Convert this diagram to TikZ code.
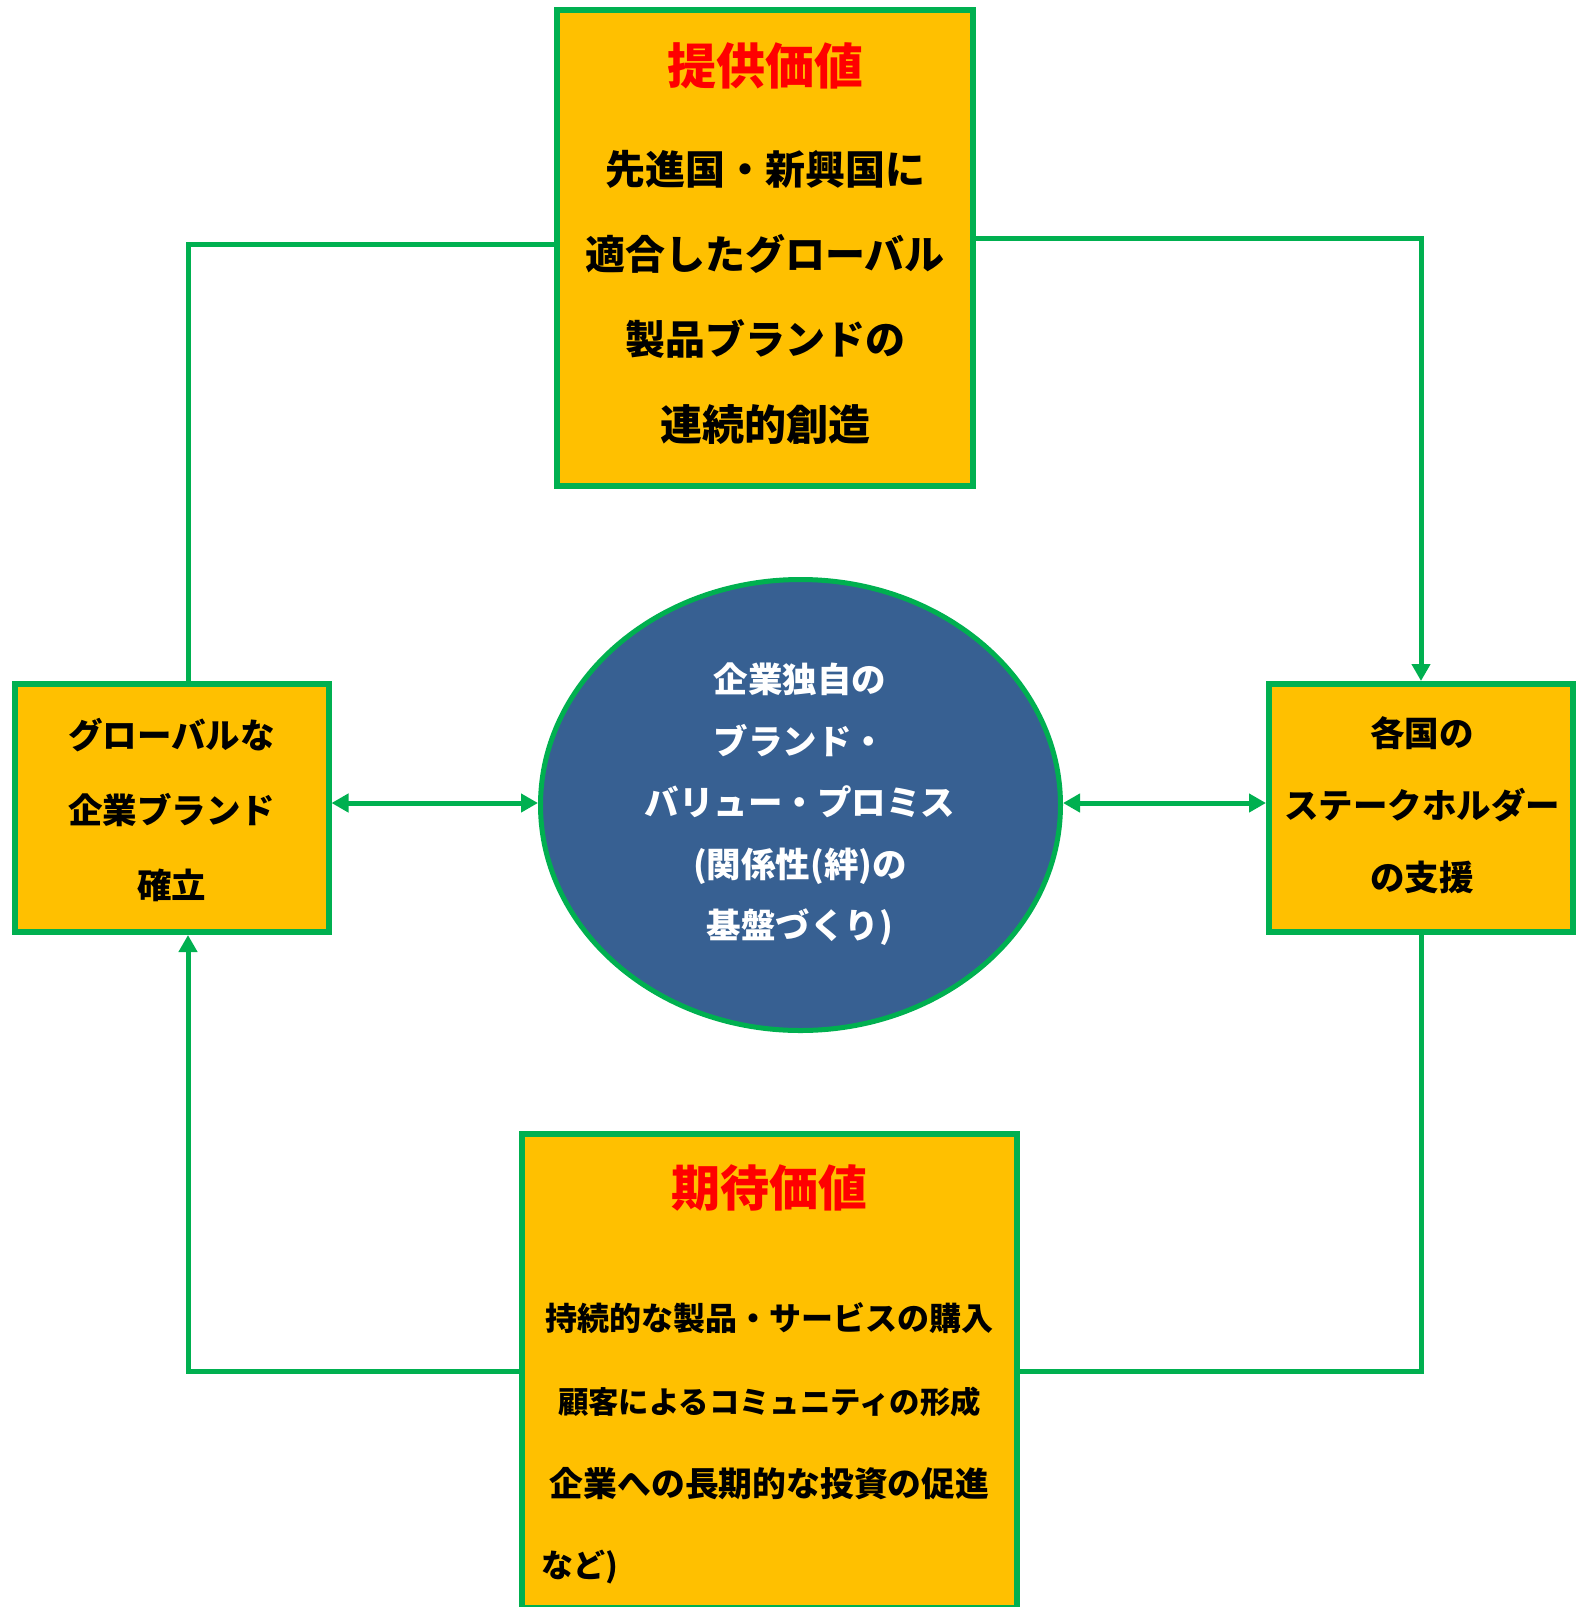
\documentclass[tikz,border=0pt]{standalone}
\usepackage{fontspec}
\newfontfamily\jp{Noto Sans CJK JP}
\usetikzlibrary{arrows.meta,shapes.geometric}
\definecolor{grn}{HTML}{00B050}
\definecolor{org}{HTML}{FFC000}
\definecolor{blu}{HTML}{376092}
\definecolor{rd}{HTML}{FF0000}
\tikzset{
 box/.style={draw=grn, fill=org, line width=6pt, inner sep=0pt},
 conn/.style={draw=grn, line width=5pt},
 tip/.style={-{Triangle[length=17pt,width=18pt]}},
 both/.style={{Triangle[length=17pt,width=18pt]}-{Triangle[length=17pt,width=18pt]}},
 ttl/.style={font=\jp\bfseries\fontsize{49}{60}\selectfont, text=rd, inner sep=0pt},
 body/.style={align=center, inner sep=0pt, text=black},
}
\begin{document}
\begin{tikzpicture}[x=1pt,y=-1pt]
\useasboundingbox (0,0) rectangle (1576,1607);
% boxes
\node[box, minimum width=416pt, minimum height=476pt] (tb) at (765,247.6) {};
\node[box, minimum width=314pt, minimum height=248pt] (lb) at (171.5,808) {};
\node[box, minimum width=304pt, minimum height=248pt] (rb) at (1421,808) {};
\node[box, minimum width=495pt, minimum height=473.5pt] (bb) at (769.5,1371) {};
\node[ellipse, draw=grn, fill=blu, line width=5pt, minimum width=520pt, minimum height=451pt, inner sep=0pt] (el) at (800.5,805) {};
% texts
\node[ttl] (tbtitle) at (765,66.3) {提供価値};
\node[body, font=\jp\bfseries\fontsize{40}{85.3}\selectfont] (tbtext) at (765,297) {先進国・新興国に\\適合したグローバル\\製品ブランドの\\{\fontsize{42}{85.3}\selectfont 連続的創造}};
\node[body, font=\jp\bfseries\fontsize{34.5}{75}\selectfont] (lbtext) at (171.5,810) {グローバルな\\企業ブランド\\確立};
\node[body, font=\jp\bfseries\fontsize{34.5}{72}\selectfont] (rbtext) at (1422,805) {各国の\\ステークホルダー\\の支援};
\node[body, text=white, font=\jp\bfseries\fontsize{34.5}{61.5}\selectfont] (eltext) at (800,804.6) {企業独自の\\ブランド・\\バリュー・プロミス\\(関係性(絆)の\\基盤づくり)};
\node[ttl] (bbtitle) at (769.5,1188) {期待価値};
\node[body, font=\jp\bfseries\fontsize{32}{83}\selectfont] (bbtext) at (769.5,1401) {持続的な製品・サービスの購入\\{\fontsize{30.4}{83}\selectfont 顧客によるコミュニティの形成}\\{\fontsize{33.8}{83}\selectfont 企業への長期的な投資の促進}};
\node[inner sep=0pt, anchor=west, font=\jp\bfseries\fontsize{32}{40}\selectfont] (bbnote) at (541.7,1567.5) {など)};
% connectors
\draw[conn] ([yshift=3pt]tb.west) -| ([xshift=16.5pt]lb.north);
\draw[conn, tip] ([yshift=9.6pt]tb.east) -| (rb.north);
\draw[conn] (rb.south) |- (bb.east);
\draw[conn, tip] (bb.west) -| ([xshift=16.5pt]lb.south);
\draw[conn, both] ([yshift=2pt]el.west -| lb.east) -- ([yshift=2pt]el.west);
\draw[conn, both] ([yshift=2pt]el.east) -- ([yshift=2pt]el.east -| rb.west);
\end{tikzpicture}
\end{document}
